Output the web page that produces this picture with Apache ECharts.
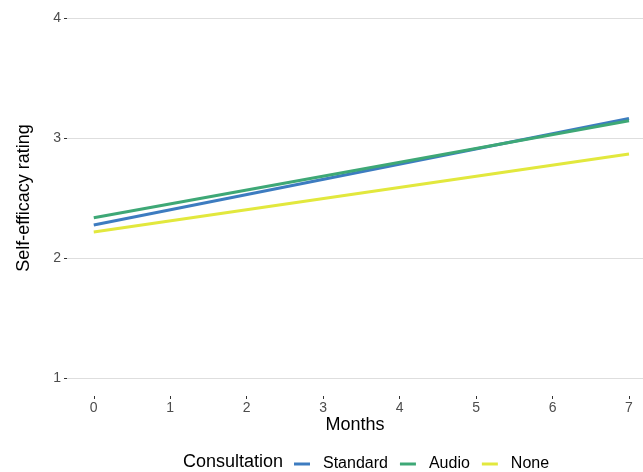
<!DOCTYPE html>
<html>
<head>
<meta charset="utf-8">
<script src="https://cdn.jsdelivr.net/npm/echarts@6/dist/echarts.min.js"></script>
<style>
html,body{margin:0;padding:0;background:#fff;}
#c{width:643px;height:472px;}
</style>
</head>
<body>
<div id="c"></div>
<script>
const months = [0, 7];
const seriesNames = ['Standard', 'Audio', 'None'];
const standard = [2.275, 3.163];
const audio = [2.336, 3.143];
const none = [2.217, 2.867];
const xTicks = [0, 1, 2, 3, 4, 5, 6, 7];
const yTicks = [1, 2, 3, 4];
const colors = ['#3d7cc0', '#3ea876', '#e2e83d'];

const valuesList = [standard, audio, none];
const font = '"Liberation Sans", Arial, sans-serif';

const chart = echarts.init(document.getElementById('c'), null, {renderer: 'canvas'});
chart.setOption({
  animation: false,
  backgroundColor: '#ffffff',
  grid: {left: 67, right: 0, top: 0, height: 396, containLabel: false},
  xAxis: {
    type: 'value', min: -0.35, max: 7.183,
    name: 'Months', nameLocation: 'middle', nameGap: 20, nameMoveOverlap: false,
    nameTextStyle: {fontFamily: font, fontSize: 18, color: '#000'},
    axisLine: {show: false, onZero: false},
    axisTick: {show: true, length: 3, customValues: xTicks, lineStyle: {color: '#333', width: 1}},
    axisLabel: {customValues: xTicks, fontFamily: font, fontSize: 14, color: '#4d4d4d', margin: 5},
    splitLine: {show: false}
  },
  yAxis: {
    type: 'value', min: 0.85, max: 4.15,
    name: 'Self-efficacy rating', nameLocation: 'middle', nameGap: 34, nameMoveOverlap: false,
    nameTextStyle: {fontFamily: font, fontSize: 18, color: '#000'},
    axisLine: {show: false, onZero: false},
    axisTick: {show: true, length: 3, customValues: yTicks, lineStyle: {color: '#333', width: 1}},
    axisLabel: {customValues: yTicks, fontFamily: font, fontSize: 14, color: '#4d4d4d', margin: 6},
    splitLine: {show: true, lineStyle: {color: '#dedede', width: 1}}
  },
  legend: {
    left: 294, top: 456, padding: 0,
    itemWidth: 16, itemHeight: 3, itemGap: 12,
    icon: 'rect',
    textStyle: {fontFamily: font, fontSize: 16, color: '#000', padding: [0, 0, 0, 8]},
    data: seriesNames
  },
  graphic: [{
    type: 'text', left: 183, top: 453,
    style: {text: 'Consultation', font: '18px ' + font, fill: '#000'}
  }],
  series: seriesNames.map((n, i) => ({
    name: n, type: 'line',
    data: months.map((m, j) => [m, valuesList[i][j]]),
    showSymbol: false, symbol: 'none',
    lineStyle: {width: 3, color: colors[i], cap: 'butt'},
    itemStyle: {color: colors[i]}
  }))
});
</script>
</body>
</html>
